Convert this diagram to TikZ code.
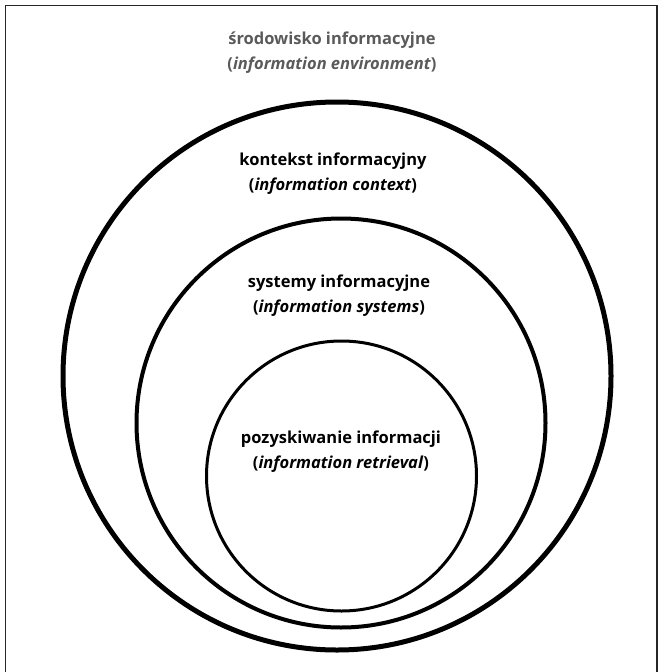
\documentclass[tikz,border=0pt]{standalone}
\usepackage{fontspec}
\setmainfont{Open Sans}
\definecolor{titlegray}{HTML}{5A5A5A}
\begin{document}
\begin{tikzpicture}[x=1pt,y=-1pt,
  lbl/.style={font=\fontsize{16.5}{25}\selectfont\bfseries, align=center, inner sep=0pt},
  ring/.style={draw=black, circle, inner sep=0pt}]
\useasboundingbox (0,0) rectangle (663,672);
\draw[line width=1.5pt, draw=black!85] (5.5,672) -- (5.5,5.5) -- (657,5.5) -- (657,672);
\node[ring, line width=5pt, minimum size=548pt] (env) at (337,376) {};
\node[ring, line width=4pt, minimum size=409pt] (ctx) at (341,423) {};
\node[ring, line width=3pt, minimum size=270pt] (sys) at (341.5,476) {};
\node[lbl, text=titlegray] (tenv) at (332,53) {środowisko informacyjne\\(\textit{information environment})};
\node[lbl] (tctx) at (333,174) {kontekst informacyjny\\(\textit{information context})};
\node[lbl] (tsys) at (339,296) {systemy informacyjne\\(\textit{information systems})};
\node[lbl] (tret) at (341,452) {pozyskiwanie informacji\\(\textit{information retrieval})};
\end{tikzpicture}
\end{document}
